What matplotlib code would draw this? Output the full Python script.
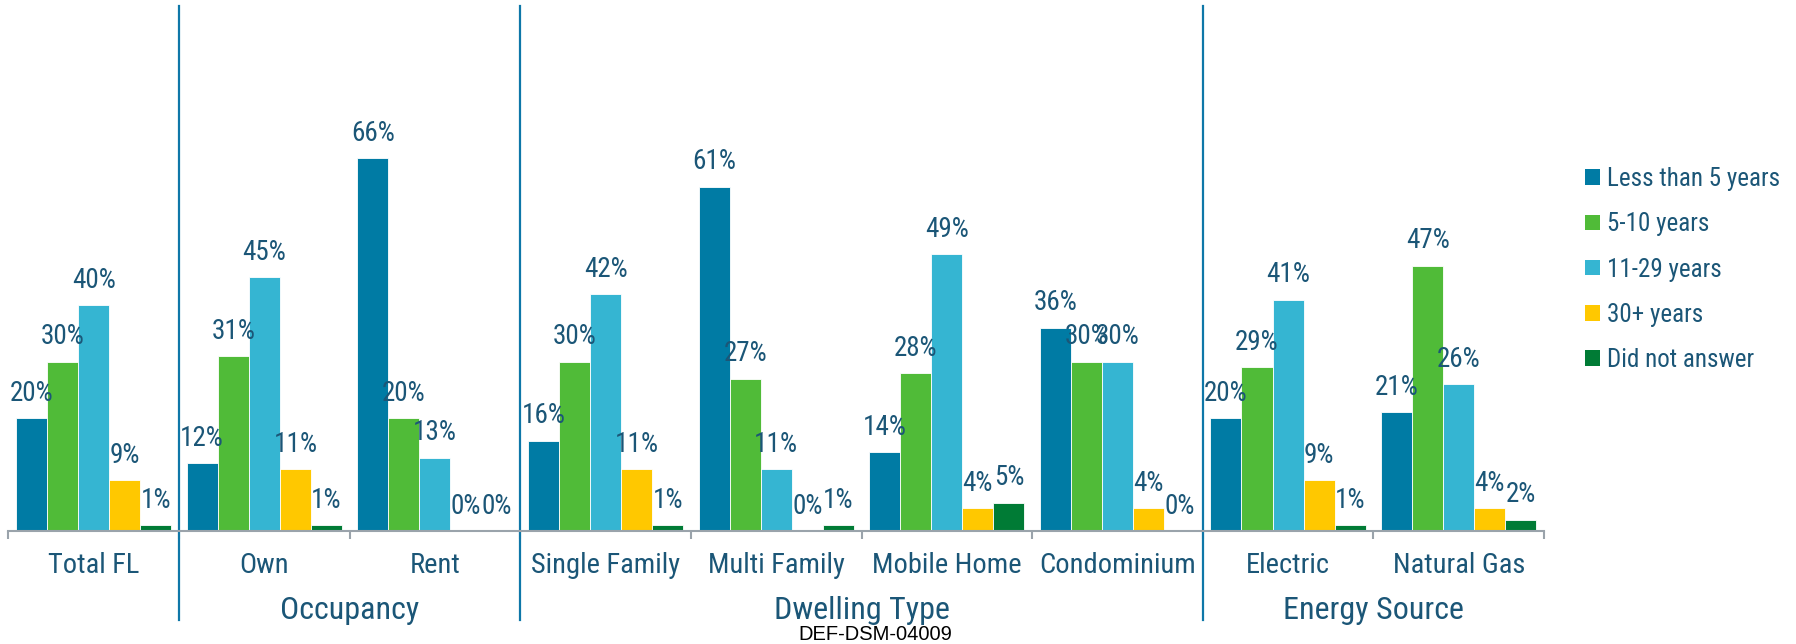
import numpy as np
import matplotlib.pyplot as plt
from matplotlib.patches import Patch

# ----- data ---------------------------------------------------------------
categories = ["Total FL", "Own", "Rent", "Single Family", "Multi Family",
              "Mobile Home", "Condominium", "Electric", "Natural Gas"]
series = ["Less than 5 years", "5-10 years", "11-29 years", "30+ years",
          "Did not answer"]
less_than_5 = [20, 12, 66, 16, 61, 14, 36, 20, 21]
yrs_5_10    = [30, 31, 20, 30, 27, 28, 30, 29, 47]
yrs_11_29   = [40, 45, 13, 42, 11, 49, 30, 41, 26]
yrs_30_plus = [9, 11, 0, 11, 0, 4, 4, 9, 4]
no_answer   = [1, 1, 0, 1, 1, 5, 0, 1, 2]

groups = ["Occupancy", "Dwelling Type", "Energy Source"]
group_spans = [(1, 2), (3, 6), (7, 8)]   # first/last category index
separators = [0.5, 2.5, 6.5]

colors = ["#007ba4", "#50bb38", "#35b5d2", "#ffc800", "#007b35"]
TXT = "#1b5677"
FONT = ["Roboto Condensed", "Archivo Narrow", "DejaVu Sans"]

values = [less_than_5, yrs_5_10, yrs_11_29, yrs_30_plus, no_answer]

# ----- figure -------------------------------------------------------------
fig = plt.figure(figsize=(17.96, 6.44), dpi=100)
ax = fig.add_axes([8.4 / 1796, 113 / 644, 1535.6 / 1796, 525 / 644])

x = np.arange(len(categories))
w = 0.182
for i, (vals, c) in enumerate(zip(values, colors)):
    xs = x + (i - 2) * w
    ax.bar(xs, vals, w, color=c, edgecolor="white", linewidth=0.6,
           label=series[i])
    for xi, v in zip(xs, vals):
        ax.annotate(f"{v}%", (xi, v), xytext=(0, 12.5),
                    textcoords="offset points", ha="center", va="baseline",
                    fontsize=19.5, color=TXT, family=FONT)

ax.set_xlim(-0.5, len(categories) - 0.5)
ax.set_ylim(0, 93)
for s in ["top", "right", "left"]:
    ax.spines[s].set_visible(False)
ax.spines["bottom"].set_color("#9aa3ab")
ax.spines["bottom"].set_linewidth(1.5)
ax.set_yticks([])
ax.set_xticks(np.arange(-0.5, len(categories), 1.0))
ax.set_xticklabels([])
ax.tick_params(axis="x", length=6, width=1.5, color="#9aa3ab", direction="out")

tr = ax.get_xaxis_transform()
for xi, name in zip(x, categories):
    ax.text(xi, -0.0806, name, transform=tr, ha="center", va="baseline",
            fontsize=20.5, color=TXT, family=FONT)

for name, (a, b) in zip(groups, group_spans):
    ax.text((a + b) / 2, -0.167, name, transform=tr, ha="center",
            va="baseline", fontsize=23, color=TXT, family=FONT)

for sx in separators:
    ax.plot([sx, sx], [1.0, -0.1695], transform=tr, color="#0e77a8",
            linewidth=1.6, clip_on=False)

handles = [Patch(facecolor=c, edgecolor="none") for c in colors]
leg = fig.legend(handles, series, loc="upper left",
                 bbox_to_anchor=(1585 / 1796, 1 - 167 / 644),
                 frameon=False, borderpad=0, borderaxespad=0,
                 handlelength=0.58, handleheight=0.58, handletextpad=0.3,
                 labelspacing=0.85, prop={"family": FONT, "size": 18})
for t in leg.get_texts():
    t.set_color(TXT)

fig.text(875 / 1796, 3.5 / 644, "DEF-DSM-04009", ha="center", va="baseline",
         fontsize=14.5, color="black", family="Liberation Sans")

fig.savefig("out.png", dpi=100)
